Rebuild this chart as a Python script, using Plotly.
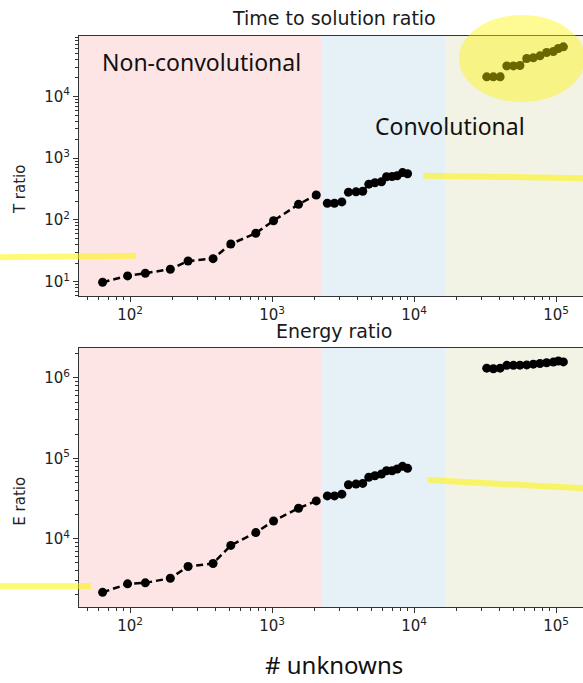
import numpy as np
import plotly.graph_objects as go

# ---------------- data ----------------
# non-convolutional sizes
n_small = [64, 96, 128, 192, 256, 384, 512, 768, 1024, 1536, 2048]
t_small = [9.8, 12.4, 13.7, 15.9, 21.6, 23.6, 40.8, 60.9, 97, 179, 254]
e_small = [2150, 2740, 2820, 3220, 4500, 4910, 8250, 11900, 16600, 23900, 29500]

# convolutional, medium sizes
n_mid = [2450, 2750, 3100, 3450, 3900, 4350, 4800, 5300, 5900, 6400, 7000, 7600, 8300, 9000]
t_mid = [186, 186, 196, 282, 285, 292, 380, 400, 415, 500, 505, 520, 585, 560]
e_mid = [34000, 34000, 35800, 46800, 47700, 48700, 58000, 60600, 63700, 70000, 70000, 73500, 79400, 75000]

# convolutional, large sizes
n_large = [32500, 36200, 40400, 45000, 50100, 55700, 62200, 69200, 77100, 85900, 95700, 103800, 112700]
t_large = [20800, 20800, 20800, 31300, 31300, 31800, 41300, 42500, 45500, 51600, 53500, 60000, 63700]
e_large = [1.32e6, 1.30e6, 1.32e6, 1.43e6, 1.43e6, 1.44e6, 1.45e6, 1.48e6, 1.51e6, 1.54e6, 1.57e6, 1.62e6, 1.58e6]

# region boundaries (# unknowns)
region_edges = [2250, 16700]
region_colors = ["#fde5e5", "#e5f0f7", "#f2f2e5"]

x_range = [1.64, 5.19]
yT_range = [0.768, 4.98]
yE_range = [3.15, 6.375]

# ---------------- figure ----------------
fig = go.Figure()

line_style = dict(color="black", width=2.5, dash="7px,4px")
marker_style = dict(color="black", size=9)

for xs, ts in [(n_small, t_small), (n_mid, t_mid), (n_large, t_large)]:
    fig.add_trace(go.Scatter(x=xs, y=ts, mode="lines+markers", line=line_style,
                             marker=marker_style, xaxis="x", yaxis="y", showlegend=False))
for xs, es in [(n_small, e_small), (n_mid, e_mid), (n_large, e_large)]:
    fig.add_trace(go.Scatter(x=xs, y=es, mode="lines+markers", line=line_style,
                             marker=marker_style, xaxis="x2", yaxis="y2", showlegend=False))

# background regions (in axis-domain fractions computed from the log scale)
span = x_range[1] - x_range[0]
fracs = [0.0] + [(np.log10(v) - x_range[0]) / span for v in region_edges] + [1.0]
shapes = []
for xr, yr in [("x domain", "y domain"), ("x2 domain", "y2 domain")]:
    for i, c in enumerate(region_colors):
        shapes.append(dict(type="rect", xref=xr, yref=yr, x0=fracs[i], x1=fracs[i + 1],
                           y0=0, y1=1, fillcolor=c, line=dict(width=0), layer="below"))

# highlighter marks
hl = "rgba(255,245,0,0.55)"
for (x0, y0, x1, y1) in [(-0.157, 0.6124, 0.1125, 0.6153),
                         (0.6831, 0.7553, 1.0, 0.7508),
                         (-0.157, 0.0368, 0.0238, 0.0368),
                         (0.6919, 0.2224, 1.0, 0.2079)]:
    shapes.append(dict(type="line", xref="paper", yref="paper", x0=x0, y0=y0, x1=x1, y1=y1,
                       line=dict(color=hl, width=6), layer="above"))
shapes.append(dict(type="circle", xref="paper", yref="paper", x0=0.754, x1=1.004,
                   y0=0.8844, y1=1.0368, fillcolor="rgba(255,245,0,0.42)",
                   line=dict(width=0), layer="above"))


def log_ticks(lo, hi):
    majors = [10 ** k for k in range(int(np.ceil(lo)), int(np.floor(hi)) + 1)]
    minors = [m * 10 ** k for k in range(int(np.floor(lo)), int(np.ceil(hi)) + 1)
              for m in range(2, 10) if lo <= np.log10(m * 10 ** k) <= hi]
    labels = ["10<sup>%d</sup>" % int(round(np.log10(v))) for v in majors]
    return majors, labels, minors


tick_font = dict(family="DejaVu Sans", size=15, color="#222")


def axis(rng, domain, anchor, mirror):
    maj, lab, mino = log_ticks(*rng)
    return dict(type="log", range=rng, domain=domain, anchor=anchor,
                tickvals=maj, ticktext=lab, ticks="outside", ticklen=5, tickwidth=1,
                tickcolor="#333", showgrid=False, zeroline=False, showline=True,
                linecolor="#333", linewidth=1, mirror=mirror, tickfont=tick_font,
                minor=dict(tickvals=mino, ticks="outside", ticklen=3, tickwidth=1,
                           tickcolor="#333", showgrid=False))


xa = axis(x_range, [0, 1], "y", True)
xa2 = axis(x_range, [0, 1], "y2", True)
ya = axis(yT_range, [0.5447, 1.0], "x", False)
ya2 = axis(yE_range, [0.0, 0.4541], "x2", False)

annotations = [
    dict(text="Time to solution ratio", x=0.505, y=1.0315, xref="paper", yref="paper",
         xanchor="center", yanchor="middle", showarrow=False,
         font=dict(family="DejaVu Sans", size=19, color="#1a1a1a")),
    dict(text="Energy ratio", x=0.505, y=0.4834, xref="paper", yref="paper",
         xanchor="center", yanchor="middle", showarrow=False,
         font=dict(family="DejaVu Sans", size=19, color="#1a1a1a")),
    dict(text="Non-convolutional", x=0.0417, y=0.955, xref="paper", yref="paper",
         xanchor="left", yanchor="middle", showarrow=False,
         font=dict(family="Noto Sans", size=23, color="#111")),
    dict(text="Convolutional", x=0.583, y=0.843, xref="paper", yref="paper",
         xanchor="left", yanchor="middle", showarrow=False,
         font=dict(family="Noto Sans", size=23, color="#111")),
    dict(text="# unknowns", x=0.505, y=-0.1015, xref="paper", yref="paper",
         xanchor="center", yanchor="middle", showarrow=False,
         font=dict(family="Noto Sans", size=24, color="#111")),
    dict(text="T ratio", x=-0.117, y=0.732, xref="paper", yref="paper", textangle=-90,
         xanchor="center", yanchor="middle", showarrow=False,
         font=dict(family="DejaVu Sans", size=15, color="#222")),
    dict(text="E ratio", x=-0.117, y=0.1845, xref="paper", yref="paper", textangle=-90,
         xanchor="center", yanchor="middle", showarrow=False,
         font=dict(family="DejaVu Sans", size=15, color="#222")),
]

fig.update_layout(
    width=583, height=683,
    margin=dict(l=79, r=0, t=36, b=76),
    paper_bgcolor="white", plot_bgcolor="white",
    xaxis=xa, xaxis2=xa2, yaxis=ya, yaxis2=ya2,
    shapes=shapes, annotations=annotations, showlegend=False,
)

fig.write_html("out.html")
